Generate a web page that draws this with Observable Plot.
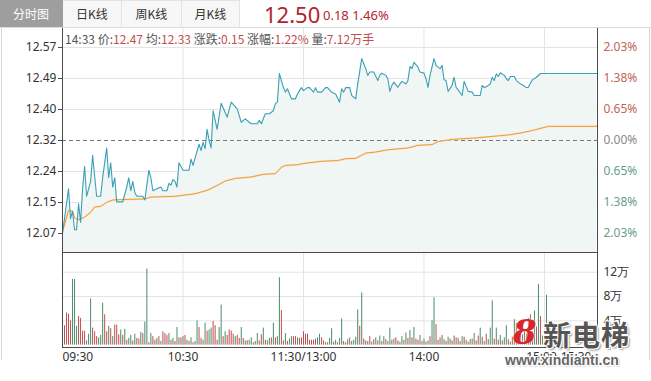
<!DOCTYPE html>
<html><head><meta charset="utf-8">
<script src="https://cdn.jsdelivr.net/npm/d3@7"></script>
<script src="https://cdn.jsdelivr.net/npm/@observablehq/plot@0.6"></script>
<style>
body{margin:0;background:#fff;font-family:"Noto Sans CJK SC","Noto Sans",sans-serif;}
#root{position:relative;width:651px;height:381px;overflow:hidden;background:#fff;}
.tab{position:absolute;top:0;height:27px;line-height:26px;text-align:center;font-size:12px;color:#333;box-sizing:border-box;border-right:1px solid #e2e2e2;border-top:1px solid #e2e2e2;background:#f7f7f7;}
.abs{position:absolute;white-space:nowrap;}
#p1,#p2{position:absolute;left:0;}
#p1{top:28px;} #p2{top:252px;}
.hv{color:#c0504d;}
</style></head>
<body><div id="root">
<div class="tab" style="left:0;width:63px;background:#9e9e9e;color:#fff;border-color:#9e9e9e;">分时图</div>
<div class="tab" style="left:63px;width:59px;">日K线</div>
<div class="tab" style="left:122px;width:60px;">周K线</div>
<div class="tab" style="left:182px;width:58px;">月K线</div>
<div class="abs" style="left:0;top:27px;width:651px;height:1px;background:#dcdcdc;"></div>
<div class="abs" style="left:1px;top:27px;width:1px;height:333px;background:#d6d6d6;"></div>
<div class="abs" style="left:649px;top:27px;width:1px;height:333px;background:#d6d6d6;"></div>
<div id="big" class="abs" style="left:264px;top:-1px;font-size:22px;color:#b3232b;font-family:'Noto Sans',sans-serif;"></div>
<div id="chg" class="abs" style="left:323px;top:6px;font-size:13px;color:#b3232b;font-family:'Noto Sans',sans-serif;"></div>
<div id="p1"></div>
<div id="p2"></div>
<div id="hdr" class="abs" style="left:65px;top:30px;font-size:12px;color:#555;"></div>
<div class="abs" style="left:513px;top:312px;font-size:34px;font-style:italic;font-weight:bold;color:#d9262c;font-family:'DejaVu Serif',serif;text-shadow:0 0 2px #fff;">8</div>
<div class="abs" style="left:543px;top:314px;font-size:28px;font-weight:bold;color:#555;letter-spacing:1px;text-shadow:-1px -1px 0 #fff,1px -1px 0 #fff,-1px 1px 0 #fff,1px 1px 0 #fff,2px 2px 2px #999;">新电梯</div>
<div class="abs" style="left:505px;top:352px;font-size:14px;font-weight:bold;color:#666;font-family:'Liberation Sans',sans-serif;text-shadow:-1px -1px 0 #fff,1px -1px 0 #fff,-1px 1px 0 #fff,1px 1px 0 #fff,1px 1px 2px #888;">www.xindianti.cn</div>
</div>
<script>
// ---------- data ----------
const lastPrice = "12.50", lastChange = "0.18", lastPct = "1.46%";
const prevClose = 12.32;
const hoverTime = "14:33", hoverPrice = "12.47", hoverAvg = "12.33", hoverChg = "0.15", hoverPct = "1.22%", hoverVol = "7.12万手";

// price (minutes since 09:30, trading time)
const priceMinute = [0,3,4,5,6,7,8,9,10,11, 12,14,15,17,19,20,22,23,24,25, 26,27,30,32,33,34,35,36,37,40,
 41,43,44,45,47,49,50,52,53,54, 55,56,57,58,60,63,64,65,68,69, 70,71,72,73,74,75,77,79,82,84,
 87,89,91,93,94,97,98,99,101,103, 105,106,107,108,109,110,111,112,114,116, 117,118,119,120,122,123,125,126,127,129,
 131,132,134,136,138,139,140,141,143,144, 146,147,149,151,152,153,155,157,158,159, 161,162,163,164,165,167,168,169,171,172,
 173,174,175,177,178,180,181,182,183,185, 186,188,189,190,191,192,194,195,196,197, 199,200,202,204,205,208,209,210,212,213,
 214,215,216,217,218,220,221,222,223,225, 226,228,229,231,232,233,234,236,238,266];
const priceValue = [12.07,12.19,12.11,12.13,12.08,12.08,12.15,12.10,12.19,12.25, 12.17,12.21,12.28,12.17,12.17,12.22,12.30,12.22,12.26,12.195,
 12.22,12.155,12.155,12.195,12.22,12.185,12.21,12.18,12.17,12.17, 12.16,12.24,12.22,12.185,12.19,12.195,12.185,12.185,12.205,12.20,
 12.215,12.21,12.195,12.26,12.24,12.24,12.27,12.253,12.31,12.293, 12.315,12.298,12.35,12.32,12.30,12.40,12.35,12.42,12.383,12.423,
 12.405,12.369,12.378,12.369,12.365,12.365,12.374,12.365,12.392,12.392, 12.40,12.419,12.423,12.50,12.481,12.463,12.45,12.459,12.432,12.432,
 12.445,12.454,12.462,12.454,12.462,12.462,12.45,12.462,12.45,12.45, 12.462,12.462,12.45,12.445,12.423,12.459,12.45,12.462,12.462,12.441,
 12.432,12.472,12.54,12.513,12.495,12.504,12.504,12.481,12.495,12.501, 12.495,12.486,12.452,12.468,12.477,12.463,12.472,12.479,12.472,12.481,
 12.519,12.513,12.53,12.517,12.504,12.501,12.486,12.463,12.495,12.54, 12.522,12.513,12.522,12.483,12.481,12.452,12.468,12.49,12.463,12.456,
 12.441,12.479,12.452,12.45,12.441,12.441,12.468,12.462,12.468,12.472, 12.49,12.481,12.499,12.492,12.502,12.495,12.486,12.481,12.492,12.492,
 12.481,12.472,12.47,12.462,12.463,12.474,12.483,12.49,12.50,12.50];

// average price
const avgMinute = [0,3,5,6,8,11,14,16,19,22, 25,28,41,44,56,59,66,72,77,81, 86,94,100,106,109,111,117,121,129,137,
 141,146,151,156,162,172,177,184,187,194, 206,214,222,229,234,239,242,266];
const avgValue = [12.075,12.132,12.13,12.112,12.107,12.114,12.127,12.141,12.143,12.154, 12.16,12.161,12.163,12.168,12.17,12.172,12.177,12.186,12.199,12.211,
 12.218,12.222,12.229,12.231,12.248,12.253,12.255,12.259,12.264,12.266, 12.271,12.272,12.286,12.289,12.295,12.30,12.307,12.309,12.317,12.323,
 12.327,12.331,12.335,12.341,12.347,12.354,12.358,12.358];

// volume per minute (万手), index = minute
const volume = [0,
 3.2,5.3,5.1,4.0,10.8,10.8,3.1,4.7,4.4,2.3, 2.3,0.7,1.8,7.6,2.8,2.2,1.4,1.2,1.6,6.9,
 5.0,2.2,3.1,2.7,1.4,3.3,3.3,1.7,2.5,1.6, 2.6,0.8,1.1,1.6,0.7,1.8,1.1,1.0,2.1,1.9,
 3.8,12.5,0.4,1.9,1.4,0.8,1.1,1.4,0.6,2.2, 1.9,1.6,1.9,0.8,1.1,0.6,2.9,1.2,1.2,1.4,
 1.6,0.8,0.6,1.2,0.4,0.6,4.0,2.9,1.1,0.8, 3.6,2.3,2.5,2.8,3.9,3.2,0.8,2.9,6.6,1.4,
 2.2,1.6,2.5,2.3,1.8,1.4,1.6,1.1,2.9,1.1, 0.7,0.7,0.8,1.2,0.4,0.6,1.9,0.7,1.7,2.8,
 0.8,0.7,1.1,1.2,3.6,1.2,1.4,11.1,5.7,0.7, 1.9,0.6,1.0,1.4,1.4,1.4,1.2,1.1,1.2,2.2,
 1.8,1.8,0.8,0.8,0.8,1.0,1.2,1.8,1.2,0.7, 0.4,0.4,1.1,2.7,0.5,0.8,0.4,1.1,4.3,0.6,
 0.4,0.9,1.2,0.6,0.8,1.3,5.8,3.1,8.6,1.0, 0.7,0.6,1.4,0.5,0.9,1.2,0.7,1.5,0.6,1.4,
 0.9,0.6,2.8,0.8,1.0,1.2,0.7,0.5,1.4,0.8, 2.0,1.1,2.4,1.2,2.9,1.0,0.8,1.6,0.6,1.0,
 0.5,0.7,1.4,4.0,7.8,3.4,0.8,1.2,1.6,0.9, 0.6,1.3,1.0,0.7,1.5,1.2,1.1,0.6,1.4,1.3,
 0.8,0.5,0.9,1.0,1.9,0.7,1.5,2.8,1.3,0.6, 1.8,0.9,2.8,7.3,1.0,2.8,0.8,1.6,0.7,1.2,
 3.2,0.9,0.5,1.3,4.2,3.6,1.4,2.0,1.7,2.5, 1.8,4.4,5.0,2.2,5.6,3.0,10.0,4.7,1.5,0.8,
 8.2];
const volSide = ("r" +
 "rrrrgggrrr"+"rgggrrrggg"+"rrgrgrrrgr"+"grggrgrrgr"+"ggrgrrgrgr"+"rrgrgrgrrg"+
 "rgrgrggrrg"+"grggrrrggr"+"grrrrgrrgr"+"grggrggrrg"+"rggrgrggrr"+"grggrrgrrr"+
 "rrrrrrggrr"+"rgggrgrggr"+"grgrgggrgr"+"rgrgrgrgrg"+"rggrgrrggr"+"grgrgrrgrg"+
 "rgrggrrgrg"+"rgrgrgrrgr"+"grgrgrrgrg"+"rgggrgrgrg"+"grgrgrgrgr"+"grgrgrgrgr"+"g").split("");

// axes
const priceTicks = [12.07,12.1533,12.2367,12.32,12.4033,12.4867,12.57];
const priceTickLabels = ["12.07","12.15","12.24","12.32","12.40","12.49","12.57"];
const pctTickLabels = ["2.03%","1.38%","0.65%","0.00%","0.65%","1.38%","2.03%"];
const pctTickColors = ["#6a9e86","#6a9e86","#6a9e86","#8a8a8a","#c0645a","#c0645a","#c0645a"];
const volTicks = [4,8,12];
const volTickLabels = ["4万","8万","12万"];
const timeTickMinute = [0,60,120,180,240,266.4];
const timeTickLabels = ["09:30","10:30","11:30/13:00","14:00","15:00","15:30"];
const gridMinute = [60,120,180,240];

// ---------- build ----------
document.getElementById("big").textContent = lastPrice;
document.getElementById("chg").textContent = lastChange + " " + lastPct;
document.getElementById("hdr").innerHTML =
 `${hoverTime} 价:<span class="hv">${hoverPrice}</span> 均:<span class="hv">${hoverAvg}</span> 涨跌:<span class="hv">${hoverChg}</span> 涨幅:<span class="hv">${hoverPct}</span> 量:<span class="hv">${hoverVol}</span>`;

const priceData = priceMinute.map((m,i)=>({m, p: priceValue[i]}));
const avgData = avgMinute.map((m,i)=>({m, p: avgValue[i]}));
const volData = volume.map((v,i)=>({m:i, v, side: volSide[i]}));
const lastIdx = timeTickMinute.length - 1;
const timeData = timeTickMinute.map((m,i)=>({m, label: timeTickLabels[i], pos: i === 0 ? "start" : (i === lastIdx ? "end" : (i === lastIdx - 1 ? "near" : "middle"))}));
const xDomain = [0, 266.4];
const yDomain = [12.019, 12.621];
const vDomain = [-0.39, 15.25];
const labelMap = new Map(priceTicks.map((t,i)=>[t, priceTickLabels[i]]));
const gridTicks = priceTicks.filter(t => t !== prevClose);
const RED = "#bf4f4b", GREEN = "#4a8c6b", AX = "#4a4a4a", GRID = "#e4e4e4";
const font = {fontFamily:"'Noto Sans',sans-serif", fontSize:"12px", color:"#333", background:"transparent"};

const p1 = Plot.plot({
  width: 651, height: 224,
  marginLeft: 62, marginRight: 54, marginTop: 0, marginBottom: 0,
  style: font,
  x: {domain: xDomain, axis: null},
  y: {domain: yDomain, axis: null},
  color: {type: "identity"},
  marks: [
    Plot.ruleY(gridTicks, {stroke: GRID}),
    Plot.ruleX(gridMinute, {stroke: GRID}),
    Plot.areaY(priceData, {x: "m", y1: yDomain[0], y2: "p", fill: "#eff6f3"}),
    Plot.ruleY([prevClose], {stroke: "#777", strokeDasharray: "4,3"}),
    Plot.line(avgData, {x: "m", y: "p", stroke: "#fbe3c4", strokeWidth: 2}),
    Plot.line(avgData, {x: "m", y: "p", stroke: "#ee9a3c", strokeWidth: 1}),
    Plot.line(priceData, {x: "m", y: "p", stroke: "#3d9fb5", strokeWidth: 1.1}),
    Plot.axisY(priceTicks, {anchor: "left", label: null, tickSize: 4, tickPadding: 2, tickFormat: d => labelMap.get(d), stroke: AX}),
    Plot.text(priceTicks, {x: xDomain[1], y: d => d, text: (d,i) => pctTickLabels[i], fill: (d,i) => pctTickColors[i], dx: 6, textAnchor: "start"}),
    Plot.ruleX([xDomain[0], xDomain[1]], {stroke: AX}),
    Plot.ruleY([yDomain[0]], {stroke: AX})
  ]
});
document.getElementById("p1").appendChild(p1);

const timeMark = (pos, anchor, dx) => Plot.text(timeData.filter(d => d.pos === pos),
  {x: "m", y: vDomain[0], text: "label", dy: 10, dx, textAnchor: anchor, fill: "#333"});

const p2 = Plot.plot({
  width: 651, height: 129,
  marginLeft: 62, marginRight: 54, marginTop: 0, marginBottom: 34,
  style: font,
  x: {domain: xDomain, axis: null},
  y: {domain: vDomain, axis: null},
  color: {type: "identity"},
  marks: [
    Plot.ruleY(volTicks, {stroke: GRID}),
    Plot.ruleX(gridMinute, {stroke: GRID}),
    Plot.ruleX(volData, {x: "m", y1: 0, y2: "v", stroke: d => d.side === "r" ? RED : GREEN, strokeWidth: 1}),
    Plot.text(volTicks, {x: xDomain[1], y: d => d, text: (d,i) => volTickLabels[i], dx: 6, textAnchor: "start", fill: "#333"}),
    timeMark("start", "start", 0),
    timeMark("middle", "middle", 0),
    timeMark("near", "middle", -3),
    timeMark("end", "end", -6),
    Plot.ruleX([xDomain[0], xDomain[1]], {stroke: AX}),
    Plot.ruleY([vDomain[0], vDomain[1]], {stroke: AX})
  ]
});
document.getElementById("p2").appendChild(p2);
</script>
</body></html>
